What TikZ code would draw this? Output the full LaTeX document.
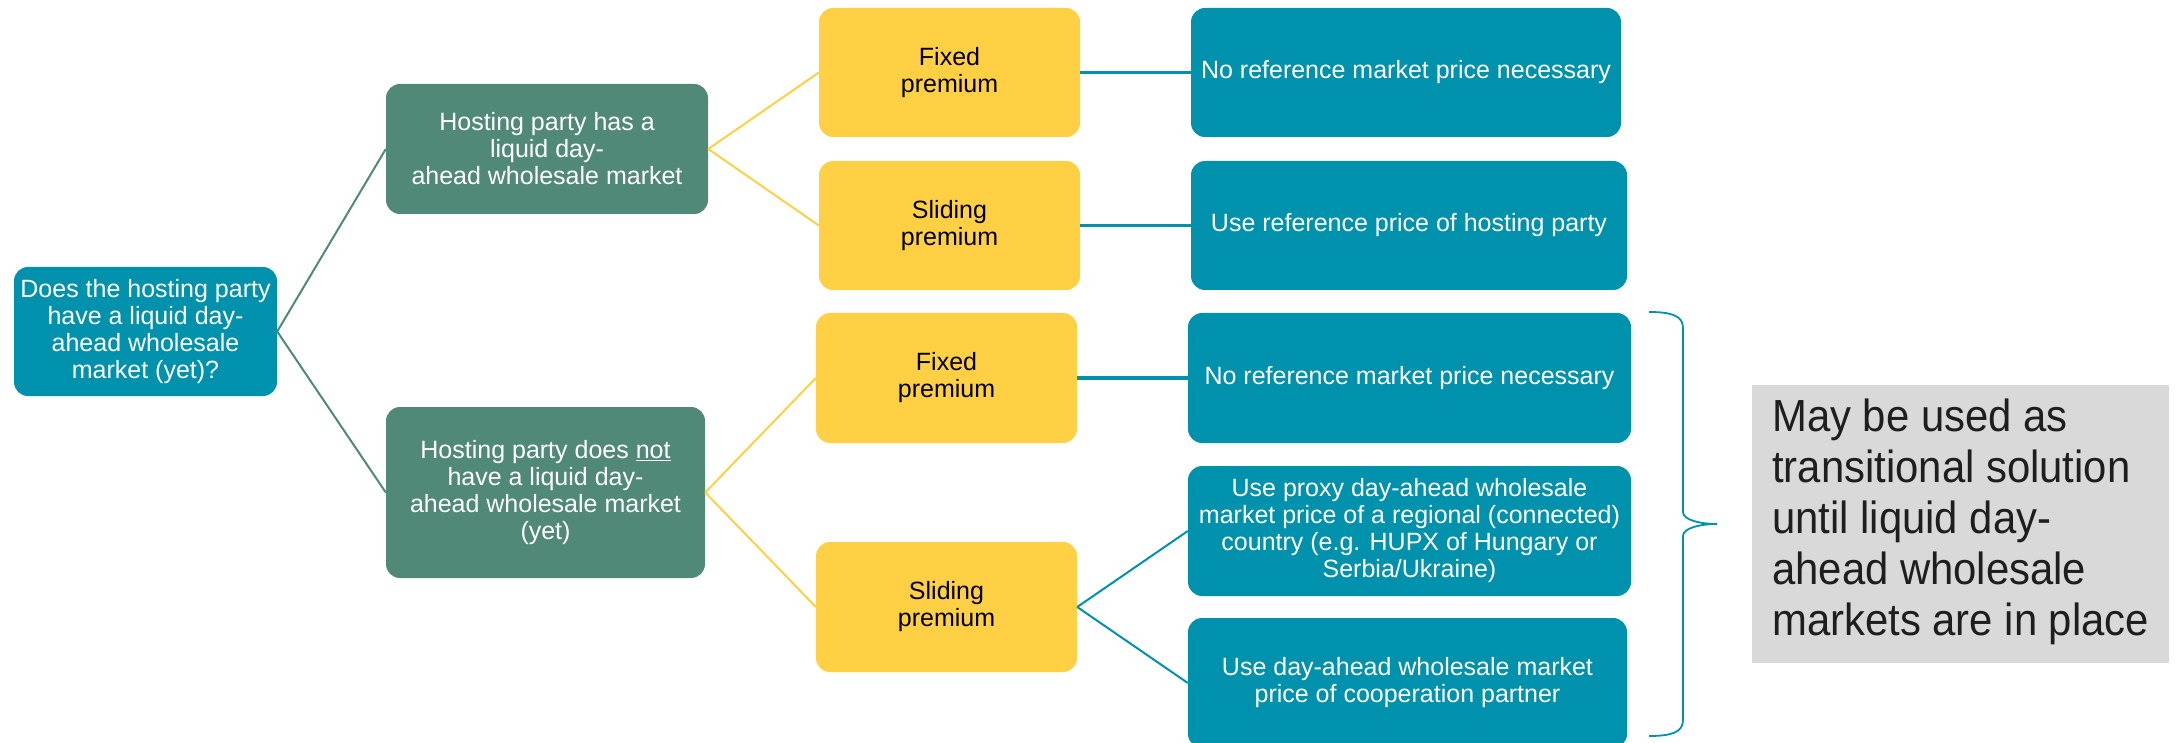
\documentclass[tikz,border=0pt]{standalone}
\usepackage{fontspec}
\setmainfont{Liberation Sans}
\newfontfamily\notefont[FakeStretch=0.93]{Liberation Sans}
\definecolor{cteal}{RGB}{0,146,173}
\definecolor{cgreen}{RGB}{80,137,120}
\definecolor{cyellow}{RGB}{255,208,68}
\definecolor{cgray}{RGB}{217,217,217}
\definecolor{ctext}{RGB}{30,30,30}
\begin{document}
\begin{tikzpicture}[x=1pt,y=-1pt,
  base/.style={rounded corners=14pt, inner sep=0pt, align=center, font=\fontsize{25}{27}\selectfont},
  tealbox/.style={base, fill=cteal, text=white},
  greenbox/.style={base, fill=cgreen, text=white},
  yellowbox/.style={base, fill=cyellow, text=black},
  graybox/.style={fill=cgray, inner sep=0pt},
  notetext/.style={inner sep=0pt, align=left, text=ctext, font=\notefont\fontsize{45}{51}\selectfont},
  glink/.style={draw=cgreen, line width=2pt},
  ylink/.style={draw=cyellow, line width=2pt},
  tlink/.style={draw=cteal, line width=3.5pt},
  tlinkthin/.style={draw=cteal, line width=2pt},
  bracestyle/.style={draw=cteal, line width=1.8pt}
]
\useasboundingbox (0,0) rectangle (2177,743);
\clip (0,0) rectangle (2177,743);

% column 1
\node[tealbox, minimum width=263pt, minimum height=129pt] (q) at (145.5,331.5)
  {Does the hosting party\\have a liquid day-\\ahead wholesale\\market (yet)?};

% column 2
\node[greenbox, minimum width=322pt, minimum height=130pt] (g1) at (547,149)
  {Hosting party has a\\liquid day-\\ahead wholesale market};
\node[greenbox, minimum width=319pt, minimum height=171pt] (g2) at (545.5,492.5)
  {Hosting party does \underline{not}\\have a liquid day-\\ahead wholesale market\\(yet)};

% column 3
\node[yellowbox, minimum width=261pt, minimum height=129pt] (y1) at (949.5,72.5) {Fixed\\premium};
\node[yellowbox, minimum width=261pt, minimum height=129pt] (y2) at (949.5,225.5) {Sliding\\premium};
\node[yellowbox, minimum width=261pt, minimum height=130pt] (y3) at (946.5,378) {Fixed\\premium};
\node[yellowbox, minimum width=261pt, minimum height=130pt] (y4) at (946.5,607) {Sliding\\premium};

% column 4
\node[tealbox, minimum width=430pt, minimum height=129pt] (r1) at (1406,72.5)
  {No reference market price necessary};
\node[tealbox, minimum width=436pt, minimum height=129pt] (r2) at (1409,225.5)
  {Use reference price of hosting party};
\node[tealbox, minimum width=443pt, minimum height=130pt] (r3) at (1409.5,378)
  {No reference market price necessary};
\node[tealbox, minimum width=443pt, minimum height=130pt] (r4) at (1409.5,531)
  {Use proxy day-ahead wholesale\\market price of a regional (connected)\\country (e.g. HUPX of Hungary or\\Serbia/Ukraine)};
\node[tealbox, minimum width=439pt, minimum height=130pt] (r5) at (1407.5,683)
  {Use day-ahead wholesale market\\price of cooperation partner};

% note
\node[graybox, minimum width=417pt, minimum height=278pt] (note) at (1960.5,524) {};
\node[notetext, anchor=west] (notetxt) at (1772,522)
  {May be used as\\transitional solution\\until liquid day-\\ahead wholesale\\markets are in place};

% connectors
\draw[glink] (q.east) -- (g1.west);
\draw[glink] (q.east) -- (g2.west);
\draw[ylink] (g1.east) -- (y1.west);
\draw[ylink] (g1.east) -- (y2.west);
\draw[ylink] (g2.east) -- (y3.west);
\draw[ylink] (g2.east) -- (y4.west);
\draw[tlink] (y1.east) -- (r1.west);
\draw[tlink] (y2.east) -- (r2.west);
\draw[tlink] (y3.east) -- (r3.west);
\draw[tlinkthin] (y4.east) -- (r4.west);
\draw[tlinkthin] (y4.east) -- (r5.west);

% brace
\coordinate (btop) at (1649,312);
\coordinate (btip) at (1717,524);
\coordinate (bbot) at (1649,736);
\draw[bracestyle] (btop) .. controls (1672,312) and (1683,316) .. (1683,328)
  -- (1683,512) .. controls (1683,520) and (1700,524) .. (btip)
  .. controls (1700,524) and (1683,528) .. (1683,536)
  -- (1683,720) .. controls (1683,732) and (1672,736) .. (bbot);
\end{tikzpicture}
\end{document}
